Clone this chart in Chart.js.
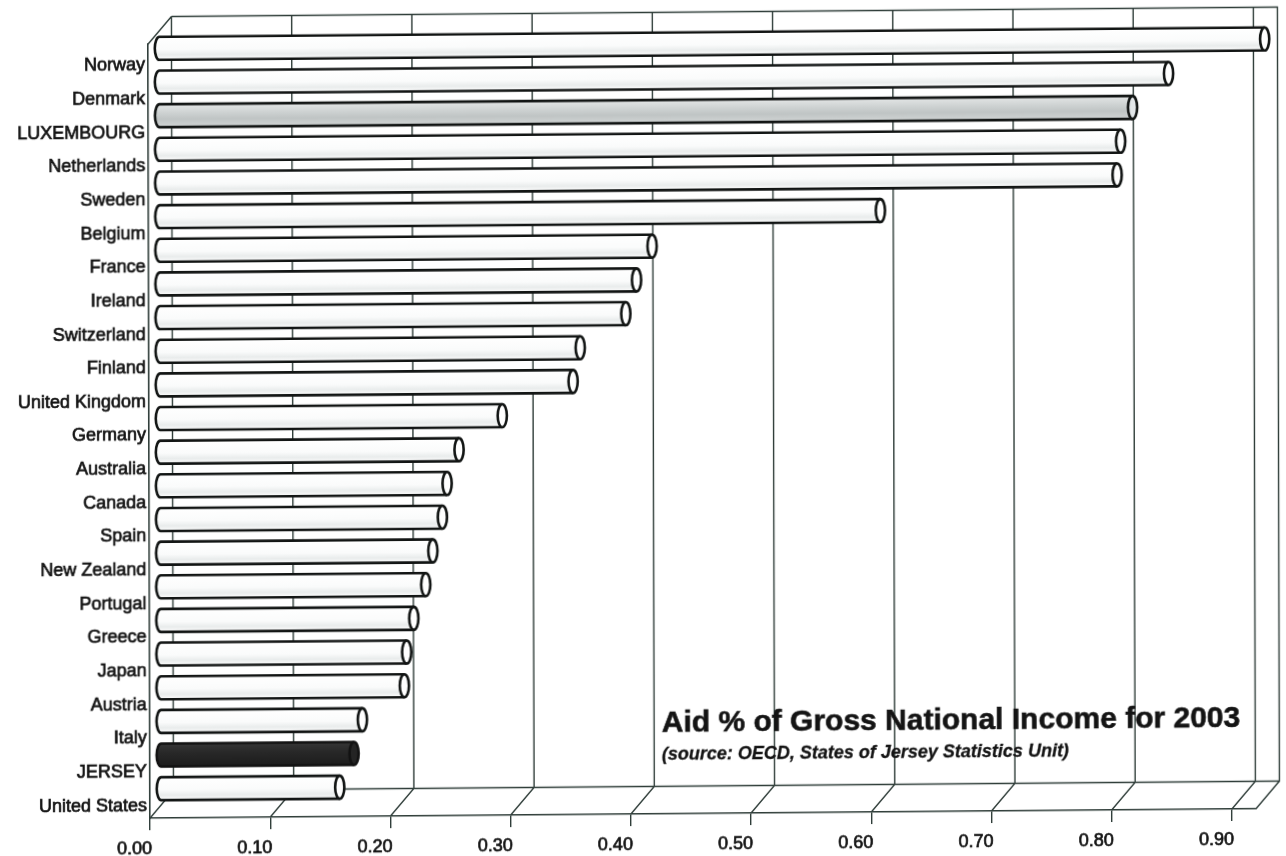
<!DOCTYPE html>
<html>
<head>
<meta charset="utf-8">
<title>Aid % of Gross National Income for 2003</title>
<script src="https://cdn.jsdelivr.net/npm/chart.js@4/dist/chart.umd.min.js"></script>
<style>
  html, body { margin: 0; padding: 0; background: #ffffff; overflow: hidden; }
  #wrap { position: absolute; left: 0; top: 0; width: 1286px; height: 856px; background: #ffffff; }
  /* slight shear of the printed page */
  #chart { display: block; transform: matrix(1, -0.0085, 0.0026, 1, 0, 0); transform-origin: 643px 428px; }
</style>
</head>
<body>
<div id="wrap"><canvas id="chart" width="1286" height="856"></canvas></div>
<script>
// ---- data ----
const countries = [
  'Norway', 'Denmark', 'LUXEMBOURG', 'Netherlands', 'Sweden', 'Belgium',
  'France', 'Ireland', 'Switzerland', 'Finland', 'United Kingdom', 'Germany',
  'Australia', 'Canada', 'Spain', 'New Zealand', 'Portugal', 'Greece',
  'Japan', 'Austria', 'Italy', 'JERSEY', 'United States'
];
const aidPct = [
  0.92, 0.84, 0.81, 0.80, 0.797, 0.60,
  0.41, 0.397, 0.388, 0.35, 0.344, 0.285,
  0.249, 0.239, 0.235, 0.227, 0.221, 0.211,
  0.205, 0.203, 0.168, 0.161, 0.149
];
const axisTicks = [0, 0.1, 0.2, 0.3, 0.4, 0.5, 0.6, 0.7, 0.8, 0.9];
const tickLabels = ['0.00', '0.10', '0.20', '0.30', '0.40', '0.50', '0.60', '0.70', '0.80', '0.90'];
const axisMax = 0.92;

const TITLE = 'Aid % of Gross National Income for 2003';
const SUBTITLE = '(source: OECD, States of Jersey Statistics Unit)';

// ---- styling ----
const FONT = '"Liberation Sans", Arial, Helvetica, sans-serif';
const INK = '#141414';
const GRID = '#2f3d39';
const OUTLINE = '#121514';
const DEPTH_X = 23.5;    // back wall offset
const DEPTH_Y = -27.5;
const BAR_DEPTH = 0.455; // bars sit a little short of mid-depth
const CAP_RX = 4.6;

const FINISH = {
  plain:  { body: [[0, '#ffffff'], [0.55, '#fafbfb'], [0.78, '#e9ecec'], [0.92, '#f5f6f6'], [1, '#fcfcfc']], cap: '#ffffff', line: OUTLINE },
  silver: { body: [[0, '#e3e6e6'], [0.3, '#d2d6d6'], [0.65, '#bfc4c4'], [0.88, '#cbcfcf'], [1, '#d8dbdb']], cap: '#e2e6e8', line: OUTLINE },
  dark:   { body: [[0, '#363636'], [0.4, '#282828'], [1, '#1c1c1c']], cap: '#242424', line: '#121212' }
};
const finishFor = { LUXEMBOURG: 'silver', JERSEY: 'dark' };

// ---- 3D box: back wall, floor diagonals, left wall edge ----
function drawBox(chart) {
  const { ctx, chartArea: a, scales: { x } } = chart;
  const bl = x.getPixelForValue(0) + DEPTH_X;
  const br = x.getPixelForValue(axisMax) + DEPTH_X;
  const bt = a.top + DEPTH_Y;
  const bb = a.bottom + DEPTH_Y;
  ctx.save();
  ctx.strokeStyle = GRID;
  ctx.lineWidth = 1.4;
  ctx.beginPath();
  ctx.moveTo(bl, bt); ctx.lineTo(br, bt); ctx.lineTo(br, bb); ctx.lineTo(bl, bb);
  ctx.moveTo(a.left, a.top); ctx.lineTo(bl, bt);
  ctx.moveTo(a.right, a.bottom); ctx.lineTo(br, bb);
  axisTicks.forEach(v => {
    const px = x.getPixelForValue(v);
    ctx.moveTo(px + DEPTH_X, bt);
    ctx.lineTo(px + DEPTH_X, bb);
    ctx.lineTo(px, a.bottom);
  });
  ctx.stroke();
  ctx.restore();
}

// ---- cylinders drawn on the bar elements ----
function drawCylinders(chart) {
  const ctx = chart.ctx;
  const meta = chart.getDatasetMeta(0);
  const ox = DEPTH_X * BAR_DEPTH;
  const oy = DEPTH_Y * BAR_DEPTH;
  ctx.save();
  ctx.lineWidth = 2.6;
  ctx.lineJoin = 'round';
  meta.data.forEach((bar, i) => {
    const p = bar.getProps(['x', 'y', 'base', 'height'], true);
    const x0 = p.base + ox;
    const x1 = p.x + ox;
    const yc = p.y + oy;
    const r = p.height / 2;
    const f = FINISH[finishFor[countries[i]] || 'plain'];

    const g = ctx.createLinearGradient(0, yc - r, 0, yc + r);
    f.body.forEach(([s, c]) => g.addColorStop(s, c));

    ctx.beginPath();
    ctx.moveTo(x1, yc - r);
    ctx.lineTo(x0, yc - r);
    ctx.ellipse(x0, yc, CAP_RX, r, 0, -Math.PI / 2, Math.PI / 2, true);
    ctx.lineTo(x1, yc + r);
    ctx.fillStyle = g;
    ctx.fill();
    ctx.strokeStyle = f.line;
    ctx.stroke();

    ctx.beginPath();
    ctx.ellipse(x1, yc, CAP_RX, r, 0, 0, Math.PI * 2);
    ctx.fillStyle = f.cap;
    ctx.fill();
    ctx.stroke();
  });
  ctx.restore();
}

function drawCaption(chart) {
  const ctx = chart.ctx;
  ctx.save();
  ctx.fillStyle = INK;
  ctx.strokeStyle = INK;
  ctx.textAlign = 'left';
  ctx.textBaseline = 'alphabetic';
  ctx.font = 'bold 30px ' + FONT;
  ctx.lineWidth = 0.6;
  ctx.fillText(TITLE, 661, 732);
  ctx.strokeText(TITLE, 661, 732);
  ctx.font = 'italic bold 18px ' + FONT;
  ctx.lineWidth = 0.3;
  ctx.fillText(SUBTITLE, 661, 760);
  ctx.strokeText(SUBTITLE, 661, 760);
  ctx.restore();
}

const boxAndCylinders = {
  id: 'boxAndCylinders',
  beforeDatasetsDraw: drawBox,
  afterDatasetsDraw: drawCylinders,
  afterDraw: drawCaption
};

new Chart(document.getElementById('chart'), {
  type: 'bar',
  data: {
    labels: countries,
    datasets: [{
      data: aidPct,
      backgroundColor: 'rgba(0,0,0,0)',
      borderWidth: 0,
      barPercentage: 0.683,
      categoryPercentage: 1
    }]
  },
  options: {
    indexAxis: 'y',
    responsive: false,
    maintainAspectRatio: false,
    animation: false,
    devicePixelRatio: 1,
    events: [],
    layout: { padding: { top: 40, right: 31, left: 0, bottom: 0 } },
    plugins: { legend: { display: false }, tooltip: { enabled: false }, title: { display: false } },
    scales: {
      x: {
        min: 0,
        max: axisMax,
        afterBuildTicks(scale) { scale.ticks = axisTicks.map(v => ({ value: v })); },
        afterFit(scale) { scale.height = 42; },
        ticks: {
          callback: (v, i) => tickLabels[i],
          labelOffset: -15.5,
          padding: 8,
          maxRotation: 0,
          autoSkip: false,
          includeBounds: false,
          color: INK,
          textStrokeColor: INK,
          textStrokeWidth: 0.7,
          font: { family: FONT, size: 18 }
        },
        grid: { drawOnChartArea: false, drawTicks: true, tickLength: 12, color: GRID, lineWidth: 1.4 },
        border: { display: true, color: GRID, width: 1.6 }
      },
      y: {
        afterFit(scale) { scale.width = 149; },
        ticks: {
          padding: 3,
          labelOffset: 4.5,
          autoSkip: false,
          color: INK,
          textStrokeColor: INK,
          textStrokeWidth: 0.7,
          font: { family: FONT, size: 18 }
        },
        grid: { drawOnChartArea: false, drawTicks: false },
        border: { display: true, color: GRID, width: 1.6 }
      }
    }
  },
  plugins: [boxAndCylinders]
});
</script>
</body>
</html>
